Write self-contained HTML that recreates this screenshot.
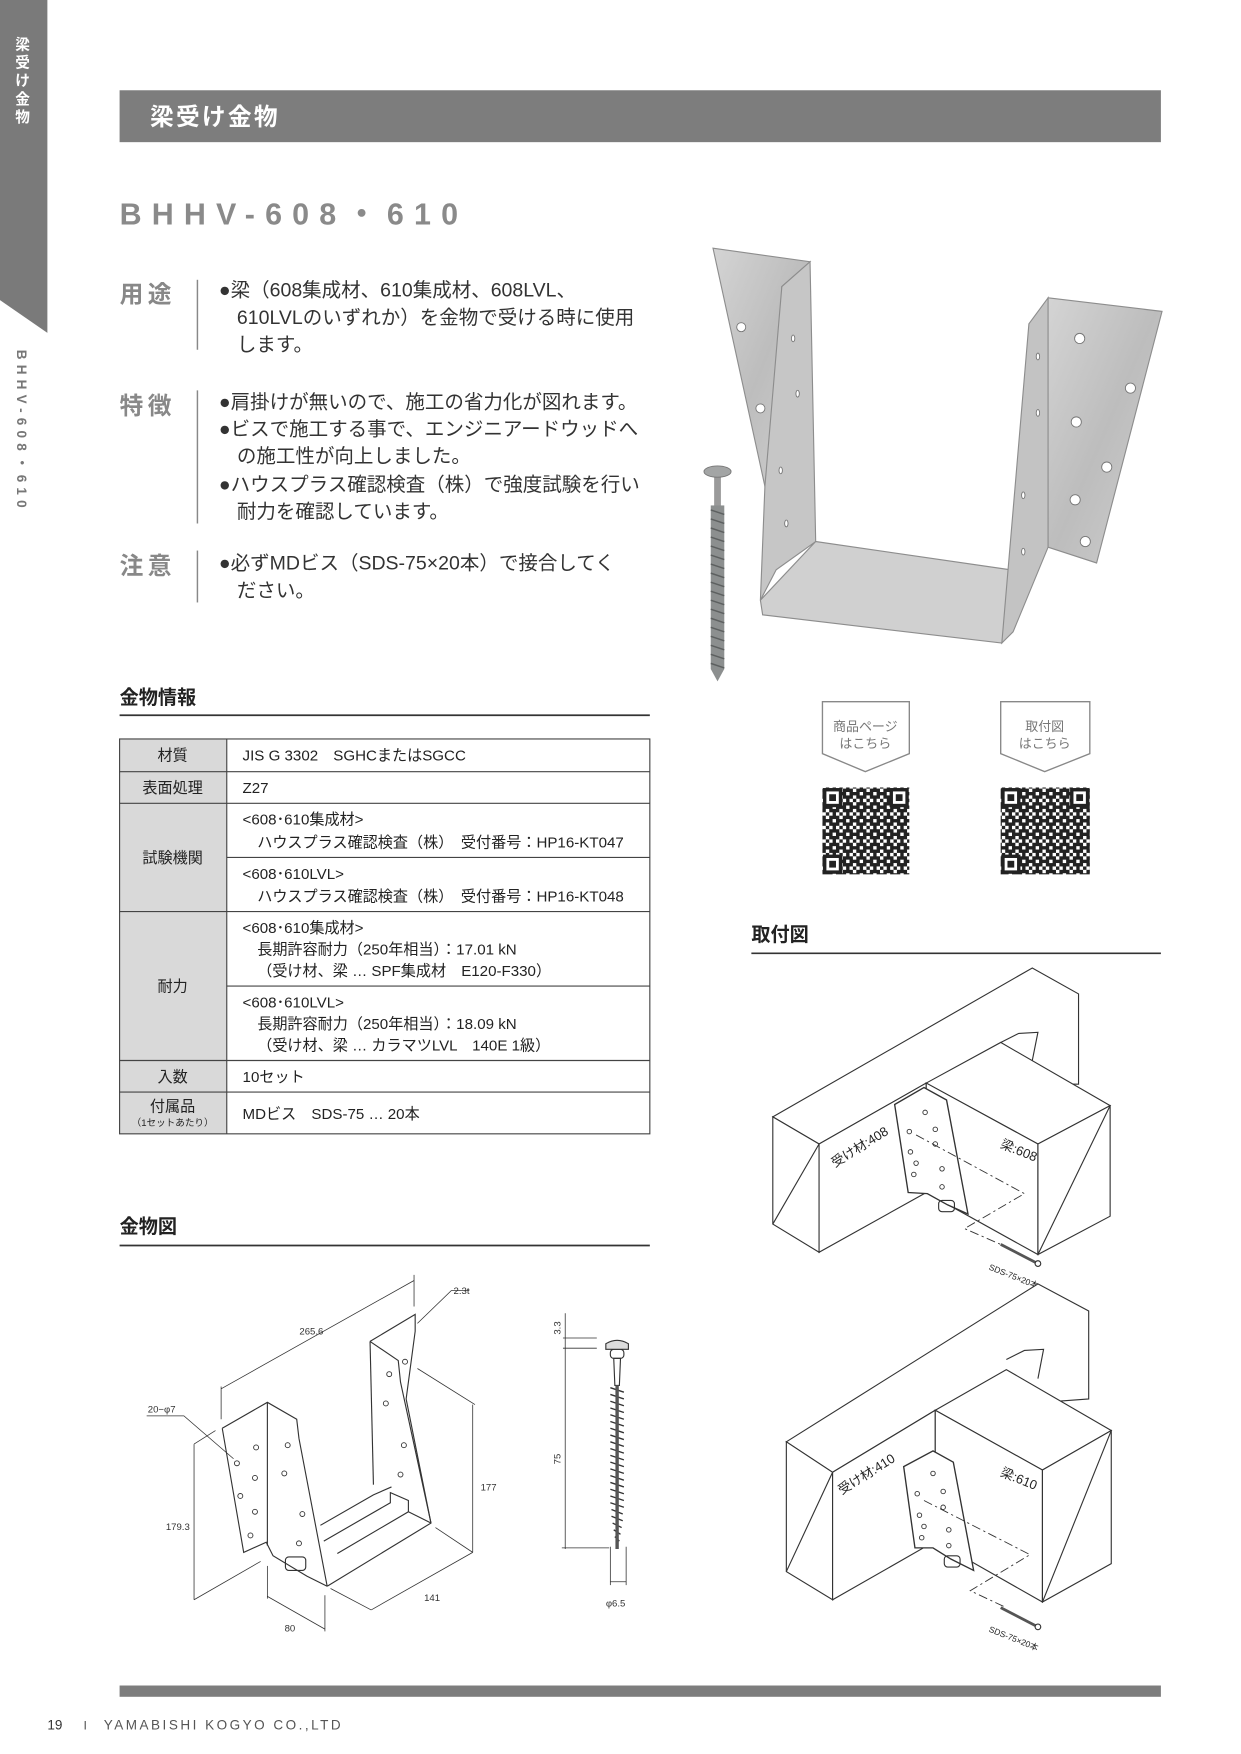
<!DOCTYPE html>
<html><head><meta charset="utf-8"><style>
html,body{margin:0;padding:0;background:#fff}
svg{display:block}
text{font-family:"Liberation Sans","Noto Sans CJK JP",sans-serif}
</style></head><body>
<svg width="1241" height="1754" viewBox="0 0 1100 1554.7" xmlns="http://www.w3.org/2000/svg">
<defs>
<linearGradient id="mg" x1="0" y1="0" x2="1" y2="1"><stop offset="0" stop-color="#d4d4d4"/><stop offset="0.5" stop-color="#bdbdbd"/><stop offset="1" stop-color="#cfcfcf"/></linearGradient>
<pattern id="qr" width="12" height="12" patternUnits="userSpaceOnUse">
<rect width="12" height="12" fill="#fff"/>
<rect x="0" y="0" width="3" height="3" fill="#222"/><rect x="6" y="0" width="3" height="6" fill="#222"/>
<rect x="3" y="3" width="3" height="3" fill="#222"/><rect x="9" y="3" width="3" height="3" fill="#222"/>
<rect x="0" y="6" width="6" height="3" fill="#222"/><rect x="9" y="6" width="3" height="6" fill="#222"/>
<rect x="3" y="9" width="3" height="3" fill="#222"/><rect x="6" y="9" width="3" height="3" fill="#222"/>
</pattern>
</defs>

<!-- sidebar -->
<polygon points="0,0 42,0 42,295 0,266" fill="#7a7a7a"/>
<g fill="#fff" font-size="13" font-weight="bold" text-anchor="middle">
<text x="20" y="44">梁</text><text x="20" y="60">受</text><text x="20" y="76">け</text><text x="20" y="92">金</text><text x="20" y="108">物</text>
</g>
<text transform="translate(15,310) rotate(90)" font-size="12" font-weight="bold" fill="#777" textLength="140" lengthAdjust="spacing">BHHV-608・610</text>

<!-- header -->
<rect x="106" y="80" width="923" height="46" fill="#7d7d7d"/>
<text x="133" y="111" font-size="21" font-weight="bold" fill="#fff" letter-spacing="2">梁受け金物</text>

<text x="106" y="199" font-size="27" font-weight="bold" fill="#8a8a8a" textLength="300" lengthAdjust="spacing">BHHV-608・610</text>

<!-- labels -->
<g font-size="21" font-weight="bold" fill="#888" letter-spacing="4">
<text x="106" y="268">用途</text><text x="106" y="367">特徴</text><text x="106" y="509">注意</text>
</g>
<g stroke="#888" stroke-width="1.3">
<line x1="175" y1="248" x2="175" y2="310"/><line x1="175" y1="346" x2="175" y2="464"/><line x1="175" y1="488" x2="175" y2="534"/>
</g>
<g font-size="17.3" fill="#333">
<text x="194" y="263">●梁（608集成材、610集成材、608LVL、</text>
<text x="210" y="287">610LVLのいずれか）を金物で受ける時に使用</text>
<text x="210" y="311">します。</text>
<text x="194" y="362">●肩掛けが無いので、施工の省力化が図れます。</text>
<text x="194" y="386">●ビスで施工する事で、エンジニアードウッドへ</text>
<text x="210" y="410">の施工性が向上しました。</text>
<text x="194" y="435">●ハウスプラス確認検査（株）で強度試験を行い</text>
<text x="210" y="459">耐力を確認しています。</text>
<text x="194" y="505">●必ずMDビス（SDS-75×20本）で接合してく</text>
<text x="210" y="529">ださい。</text>
</g>

<!-- photo -->
<g stroke="#8d8d8d" stroke-width="1" fill="url(#mg)">
<polygon points="632,220 718,232 693,254 690,420 678,431"/>
<polygon points="693,254 718,232 723,480 688,505 674,532 678,431" fill="#c6c6c6"/>
<polygon points="674,532 723,480 916,508 888,570 676,545" fill="#d0d0d0"/>
<polygon points="912,287 929,264 929,485 898,560 888,570" fill="#c3c3c3"/>
<polygon points="929,264 1030,276 972,499 929,485"/>
</g>
<g fill="#fff" stroke="#777" stroke-width="0.8">
<circle cx="657" cy="290" r="4"/><circle cx="674" cy="362" r="4"/>
<circle cx="957" cy="300" r="4.5"/><circle cx="1002" cy="344" r="4.5"/><circle cx="954" cy="374" r="4.5"/><circle cx="981" cy="414" r="4.5"/><circle cx="953" cy="443" r="4.5"/><circle cx="962" cy="480" r="4.5"/>
<ellipse cx="703" cy="300" rx="1.5" ry="3"/><ellipse cx="707" cy="349" rx="1.5" ry="3"/><ellipse cx="692" cy="417" rx="1.5" ry="3"/><ellipse cx="697" cy="464" rx="1.5" ry="3"/>
<ellipse cx="920" cy="316" rx="1.5" ry="3"/><ellipse cx="920" cy="366" rx="1.5" ry="3"/><ellipse cx="907" cy="439" rx="1.5" ry="3"/><ellipse cx="907" cy="489" rx="1.5" ry="3"/>
</g>
<rect x="633" y="420" width="6" height="30" fill="#9a9a9a"/>
<rect x="630" y="448" width="12" height="145" fill="#8c8f8f"/>
<g stroke="#5d6060" stroke-width="1.3">
<path d="M630 452 L642 456 M630 460 L642 464 M630 468 L642 472 M630 476 L642 480 M630 484 L642 488 M630 492 L642 496 M630 500 L642 504 M630 508 L642 512 M630 516 L642 520 M630 524 L642 528 M630 532 L642 536 M630 540 L642 544 M630 548 L642 552 M630 556 L642 560 M630 564 L642 568 M630 572 L642 576 M630 580 L642 584 M630 588 L642 592"/>
</g>
<polygon points="630,593 642,593 636,604" fill="#8c8f8f"/>
<ellipse cx="636" cy="418" rx="12" ry="5" fill="#a3a5a5" stroke="#777" stroke-width="0.8"/>

<!-- 金物情報 -->
<text x="106" y="624" font-size="17" font-weight="bold" fill="#222">金物情報</text>
<line x1="106" y1="634" x2="576" y2="634" stroke="#333" stroke-width="1.5"/>

<g>
<rect x="106" y="655" width="95" height="350" fill="#d9d9d9"/>
<rect x="106" y="655" width="470" height="350" fill="none" stroke="#444" stroke-width="1"/>
<g stroke="#444" stroke-width="1">
<line x1="201" y1="655" x2="201" y2="1005"/>
<line x1="106" y1="684" x2="576" y2="684"/><line x1="106" y1="712" x2="576" y2="712"/>
<line x1="201" y1="760" x2="576" y2="760"/><line x1="106" y1="808" x2="576" y2="808"/>
<line x1="201" y1="874" x2="576" y2="874"/><line x1="106" y1="940" x2="576" y2="940"/>
<line x1="106" y1="968" x2="576" y2="968"/>
</g>
<g font-size="13.4" fill="#222" text-anchor="middle">
<text x="153" y="674">材質</text><text x="153" y="703">表面処理</text><text x="153" y="765">試験機関</text>
<text x="153" y="879">耐力</text><text x="153" y="959">入数</text><text x="153" y="985">付属品</text>
<text x="153" y="998" font-size="8.5">（1セットあたり）</text>
</g>
<g font-size="13.4" fill="#222">
<text x="215" y="674">JIS G 3302　SGHCまたはSGCC</text>
<text x="215" y="703">Z27</text>
<text x="215" y="731">&lt;608･610集成材&gt;</text>
<text x="228" y="751">ハウスプラス確認検査（株）　受付番号：HP16-KT047</text>
<text x="215" y="779">&lt;608･610LVL&gt;</text>
<text x="228" y="799">ハウスプラス確認検査（株）　受付番号：HP16-KT048</text>
<text x="215" y="827">&lt;608･610集成材&gt;</text>
<text x="228" y="846">長期許容耐力（250年相当）：17.01 kN</text>
<text x="228" y="865">（受け材、梁 … SPF集成材　E120-F330）</text>
<text x="215" y="893">&lt;608･610LVL&gt;</text>
<text x="228" y="912">長期許容耐力（250年相当）：18.09 kN</text>
<text x="228" y="931">（受け材、梁 … カラマツLVL　140E 1級）</text>
<text x="215" y="959">10セット</text>
<text x="215" y="992">MDビス　SDS-75 … 20本</text>
</g>
</g>

<!-- QR badges -->
<g fill="#fff" stroke="#888" stroke-width="1.2">
<polygon points="729,622 806,622 806,668 767,684 729,668"/>
<polygon points="887,622 966,622 966,668 926,684 887,668"/>
</g>
<g font-size="11.5" fill="#777" text-anchor="middle">
<text x="767" y="648">商品ページ</text><text x="767" y="663">はこちら</text>
<text x="926" y="648">取付図</text><text x="926" y="663">はこちら</text>
</g>
<g>
<rect x="729" y="698" width="77" height="77" fill="url(#qr)"/>
<rect x="887" y="698" width="79" height="77" fill="url(#qr)"/>
<g fill="#fff" stroke="#222" stroke-width="3">
<rect x="731" y="700" width="14" height="14"/><rect x="790" y="700" width="14" height="14"/><rect x="731" y="759" width="14" height="14"/>
<rect x="889" y="700" width="14" height="14"/><rect x="950" y="700" width="14" height="14"/><rect x="889" y="759" width="14" height="14"/>
</g>
<g fill="#222">
<rect x="735" y="704" width="6" height="6"/><rect x="794" y="704" width="6" height="6"/><rect x="735" y="763" width="6" height="6"/>
<rect x="893" y="704" width="6" height="6"/><rect x="954" y="704" width="6" height="6"/><rect x="893" y="763" width="6" height="6"/>
</g>
</g>

<!-- 取付図 -->
<text x="666" y="834" font-size="17" font-weight="bold" fill="#222">取付図</text>
<line x1="666" y1="845" x2="1029" y2="845" stroke="#333" stroke-width="1.5"/>

<g fill="none" stroke="#333" stroke-width="1">
<polygon points="685,990 915,858 956,881 956,961 821,960 726,1014" fill="#fff"/>
<polygon points="685,990 726,1014 726,1110 685,1085" fill="#fff"/>
<line x1="726" y1="1014" x2="685" y2="1085"/>
<polygon points="726,1014 821,960 821,1057 726,1110" fill="#fff"/>
<polyline points="887,924 903,916 920,915 915,940"/>
<polygon points="821,960 887,924 984,980 920,1014" fill="#fff"/>
<polygon points="821,960 920,1014 920,1112 821,1057" fill="#fff"/>
<polygon points="920,1014 984,980 984,1078 920,1112" fill="#fff"/>
<line x1="984" y1="980" x2="920" y2="1112"/>
<polygon points="793,979 819,964 839,975 858,1076 840,1068 822,1058 805,1057" fill="#fff" stroke-width="1.2"/>
<rect x="832" y="1064" width="14" height="10" rx="3"/>
<g stroke-width="0.8">
<circle cx="820" cy="986" r="2"/><circle cx="829" cy="1001" r="2"/><circle cx="806" cy="1003" r="2"/><circle cx="829" cy="1014" r="2"/>
<circle cx="807" cy="1021" r="2"/><circle cx="812" cy="1031" r="2"/><circle cx="835" cy="1036" r="2"/><circle cx="810" cy="1041" r="2"/><circle cx="835" cy="1052" r="2"/>
</g>
<polyline points="812,1006 908,1058 855,1089 887,1103" stroke-dasharray="8,3,2,3" stroke-width="0.8"/>
<line x1="887" y1="1103" x2="918" y2="1119" stroke-width="2.5" stroke="#555"/>
<circle cx="920" cy="1120" r="2.5"/>
</g>
<text transform="translate(740,1035) rotate(-32)" font-size="11.5" fill="#222">受け材:408</text>
<text transform="translate(886,1017) rotate(22)" font-size="11.5" fill="#222">梁:608</text>
<text transform="translate(876,1125) rotate(22)" font-size="7.5" fill="#222">SDS-75×20本</text>

<g fill="none" stroke="#333" stroke-width="1" transform="translate(5,0)">
<polygon points="692,1278 915,1138 960,1162 960,1240 824,1250 733,1305" fill="#fff"/>
<polygon points="692,1278 733,1305 733,1418 692,1393" fill="#fff"/>
<line x1="733" y1="1305" x2="692" y2="1393"/>
<polygon points="733,1305 824,1250 824,1366 733,1418" fill="#fff"/>
<polyline points="887,1205 903,1197 920,1196 915,1222"/>
<polygon points="824,1250 887,1214 980,1268 919,1303" fill="#fff"/>
<polygon points="824,1250 919,1303 919,1420 824,1366" fill="#fff"/>
<polygon points="919,1303 980,1268 980,1386 919,1420" fill="#fff"/>
<line x1="980" y1="1268" x2="919" y2="1420"/>
<polygon points="796,1300 822,1286 840,1296 858,1392 838,1382 822,1372 806,1372" fill="#fff" stroke-width="1.2"/>
<rect x="832" y="1379" width="14" height="10" rx="3"/>
<g stroke-width="0.8">
<circle cx="822" cy="1306" r="2"/><circle cx="831" cy="1322" r="2"/><circle cx="808" cy="1324" r="2"/><circle cx="831" cy="1336" r="2"/>
<circle cx="810" cy="1343" r="2"/><circle cx="814" cy="1353" r="2"/><circle cx="836" cy="1356" r="2"/><circle cx="812" cy="1363" r="2"/><circle cx="836" cy="1370" r="2"/>
</g>
<polyline points="814,1330 908,1378 855,1410 887,1425" stroke-dasharray="8,3,2,3" stroke-width="0.8"/>
<line x1="882" y1="1425" x2="913" y2="1441" stroke-width="2.5" stroke="#555"/>
<circle cx="915" cy="1442" r="2.5"/>
</g>
<text transform="translate(746,1325) rotate(-32)" font-size="11.5" fill="#222">受け材:410</text>
<text transform="translate(886,1308) rotate(22)" font-size="11.5" fill="#222">梁:610</text>
<text transform="translate(876,1446) rotate(22)" font-size="7.5" fill="#222">SDS-75×20本</text>

<!-- 金物図 -->
<text x="106" y="1093" font-size="17" font-weight="bold" fill="#222">金物図</text>
<line x1="106" y1="1104" x2="576" y2="1104" stroke="#333" stroke-width="1.5"/>

<g fill="none" stroke="#333" stroke-width="1">
<polyline points="197,1266 237,1243 263,1258 265,1275 290,1406"/>
<polyline points="197,1266 216,1376 236,1367 242,1379 272,1397 290,1406"/>
<line x1="237" y1="1243" x2="237" y2="1370"/>
<polyline points="328,1189 368,1165 368,1180 360,1240 382,1350 290,1406"/>
<line x1="328" y1="1189" x2="331" y2="1316"/>
<polyline points="328,1189 353,1206 355,1225 382,1350"/>
<polyline points="284,1352 331,1325 347,1318"/>
<polyline points="287,1366 346,1332 346,1323 362,1330 362,1340 299,1377"/>
<line x1="362" y1="1340" x2="382" y2="1350"/>
<rect x="253" y="1380" width="18" height="12" rx="3"/>
<g stroke-width="0.8">
<circle cx="227" cy="1283" r="2.2"/><circle cx="210" cy="1297" r="2.2"/><circle cx="226" cy="1310" r="2.2"/><circle cx="213" cy="1326" r="2.2"/><circle cx="226" cy="1340" r="2.2"/><circle cx="222" cy="1361" r="2.2"/>
<circle cx="255" cy="1281" r="2.2"/><circle cx="252" cy="1306" r="2.2"/><circle cx="268" cy="1342" r="2.2"/><circle cx="265" cy="1368" r="2.2"/>
<circle cx="359" cy="1207" r="2.2"/><circle cx="345" cy="1218" r="2.2"/><circle cx="342" cy="1244" r="2.2"/><circle cx="358" cy="1281" r="2.2"/><circle cx="355" cy="1307" r="2.2"/>
</g>
<g stroke-width="0.7">
<line x1="196" y1="1231" x2="367" y2="1135"/><line x1="196" y1="1229" x2="196" y2="1258"/><line x1="367" y1="1130" x2="367" y2="1158"/>
<polyline points="370,1173 400,1144 416,1144"/>
<polyline points="130,1255 163,1255 207,1293"/>
<line x1="172" y1="1280" x2="172" y2="1418"/><line x1="172" y1="1280" x2="191" y2="1268"/><line x1="172" y1="1418" x2="231" y2="1384"/>
<line x1="237" y1="1415" x2="288" y2="1444"/><line x1="237" y1="1388" x2="237" y2="1417"/><line x1="288" y1="1414" x2="288" y2="1446"/>
<line x1="329" y1="1427" x2="419" y2="1376"/><line x1="293" y1="1408" x2="329" y2="1427"/><line x1="386" y1="1354" x2="419" y2="1376"/>
<line x1="419" y1="1245" x2="419" y2="1376"/><line x1="370" y1="1213" x2="421" y2="1245"/>
</g>
<rect x="541" y="1196" width="12" height="8" rx="3"/>
<path d="M537 1191 Q547 1185 557 1191 L557 1196 L537 1196 Z" fill="#ddd"/>
<path d="M544 1204 L550 1204 L549 1228 L545 1228 Z"/>
<g stroke-width="1.2">
<path d="M541 1230 L553 1234 M541 1236 L553 1240 M541 1242 L553 1246 M541 1248 L553 1252 M541 1254 L553 1258 M541 1260 L553 1264 M541 1266 L553 1270 M541 1272 L553 1276 M541 1278 L553 1282 M541 1284 L553 1288 M541 1290 L553 1294 M541 1296 L553 1300 M541 1302 L553 1306 M541 1308 L553 1312 M541 1314 L553 1318 M541 1320 L553 1324 M541 1326 L553 1330 M541 1332 L553 1336 M542 1338 L552 1342 M542 1344 L552 1348 M543 1350 L551 1354 M544 1356 L550 1360 M545 1362 L549 1366"/>
</g>
<line x1="547" y1="1228" x2="547" y2="1373" stroke-width="3" stroke="#555"/>
<g stroke-width="0.7">
<line x1="501" y1="1164" x2="501" y2="1373"/>
<line x1="499" y1="1186" x2="529" y2="1186"/><line x1="499" y1="1195" x2="529" y2="1195"/>
<line x1="498" y1="1372" x2="540" y2="1372"/>
<line x1="541" y1="1371" x2="541" y2="1405"/><line x1="555" y1="1371" x2="555" y2="1405"/><line x1="541" y1="1402" x2="555" y2="1402"/>
</g>
</g>
<g font-size="8.5" fill="#333">
<text x="276" y="1183" text-anchor="middle">265.6</text>
<text x="402" y="1147">2.3t</text>
<text x="131" y="1252">20−φ7</text>
<text x="147" y="1356">179.3</text>
<text x="257" y="1446" text-anchor="middle">80</text>
<text x="383" y="1419" text-anchor="middle">141</text>
<text x="426" y="1321">177</text>
<text x="537" y="1424">φ6.5</text>
<text transform="translate(497,1183) rotate(-90)">3.3</text>
<text transform="translate(497,1298) rotate(-90)">75</text>
</g>

<!-- footer -->
<rect x="106" y="1494" width="923" height="10" fill="#7d7d7d"/>
<text x="42" y="1533" font-size="12" fill="#333">19</text>
<text x="74" y="1533" font-size="11" fill="#555">I</text>
<text x="92" y="1533" font-size="12" fill="#555" font-family="Liberation Serif" textLength="210" lengthAdjust="spacing">YAMABISHI KOGYO CO.,LTD</text>
</svg>
</body></html>
